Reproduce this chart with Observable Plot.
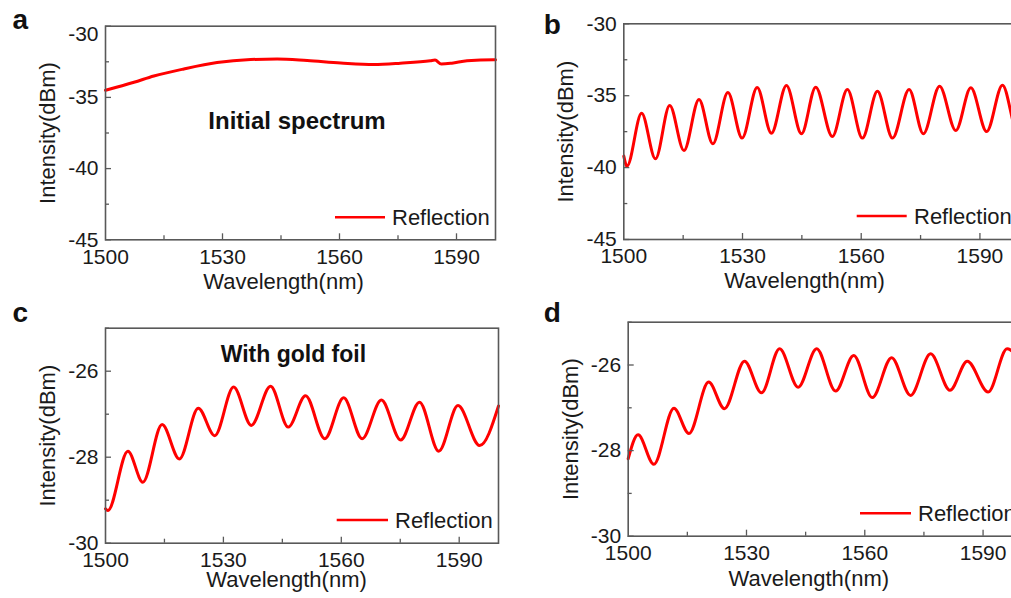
<!DOCTYPE html>
<html><head><meta charset="utf-8">
<script src="https://cdn.jsdelivr.net/npm/d3@7"></script>
<script src="https://cdn.jsdelivr.net/npm/@observablehq/plot@0.6"></script>
<style>
html,body{margin:0;padding:0;background:#fff;}
#fig{position:relative;width:1011px;height:598px;overflow:hidden;background:#fff;}
#fig > div.panel{position:absolute;}
#fig svg{display:block;overflow:visible;max-width:none !important;}
#overlay{position:absolute;left:0;top:0;pointer-events:none;}
</style></head><body><div id="fig"></div>
<script>
// ---------- data ----------
const xMajor = [1500, 1530, 1560, 1590];
const xMinor = [1515, 1545, 1575];
const xLabel = "Wavelength(nm)";
const yLabel = "Intensity(dBm)";
const legendLabel = "Reflection";
const panelLetters = ["a", "b", "c", "d"];
const notes = ["Initial spectrum", "With gold foil"];

// panel a: initial spectrum
const wlA = [1500, 1507.3, 1512.4, 1520.1, 1528.6, 1537.2, 1544.0, 1551.7, 1560.3, 1568.8, 1575.6, 1583.3, 1584.5, 1586.1, 1588.8, 1592.7, 1599.6, 1600];
const dbA = [-34.5, -33.94, -33.5, -33.0, -32.55, -32.34, -32.3, -32.41, -32.58, -32.69, -32.6, -32.43, -32.38, -32.66, -32.6, -32.43, -32.36, -32.36];
// panel b
const wlB = [1500, 1500.8, 1504.5, 1508.0, 1511.6, 1515.2, 1519.0, 1522.5, 1526.3, 1529.9, 1533.7, 1537.3, 1541.1, 1544.9, 1548.5, 1552.7, 1556.5, 1560.3, 1564.1, 1567.9, 1572.1, 1575.7, 1579.8, 1583.9, 1587.7, 1591.7, 1595.7, 1599.5, 1600];
const dbB = [-39.2, -39.9, -36.22, -39.39, -35.68, -38.81, -35.26, -38.35, -34.78, -37.95, -34.43, -37.61, -34.29, -37.65, -34.41, -37.84, -34.57, -37.95, -34.69, -37.95, -34.57, -37.65, -34.34, -37.42, -34.45, -37.49, -34.27, -37.5, -37.4];
// panel c: with gold foil
const wlC = [1500, 1500.6, 1505.7, 1509.5, 1514.4, 1518.8, 1523.6, 1527.8, 1532.6, 1537.1, 1542.0, 1546.5, 1550.9, 1555.8, 1560.6, 1565.3, 1570.2, 1575.1, 1579.9, 1584.8, 1589.7, 1595.2, 1600];
const dbC = [-29.2, -29.24, -27.86, -28.58, -27.24, -28.04, -26.86, -27.50, -26.37, -27.26, -26.35, -27.30, -26.57, -27.57, -26.62, -27.57, -26.67, -27.60, -26.72, -27.86, -26.80, -27.73, -26.81];
// panel d
const wlD = [1500, 1502.5, 1506.5, 1511.6, 1515.4, 1520.4, 1524.4, 1529.5, 1533.8, 1538.4, 1543.1, 1547.8, 1552.6, 1557.2, 1561.9, 1566.8, 1571.6, 1576.7, 1581.6, 1586.0, 1591.3, 1596.1, 1600];
const dbD = [-28.19, -27.63, -28.32, -27.01, -27.60, -26.40, -27.02, -25.91, -26.65, -25.62, -26.52, -25.62, -26.61, -25.78, -26.76, -25.83, -26.71, -25.74, -26.59, -25.91, -26.63, -25.62, -26.0];

const yMajorAB = [-30, -35, -40, -45];
const yMinorAB = [-32.5, -37.5, -42.5];
const yMajorCD = [-26, -28, -30];
const yMinorCD = [-25, -27, -29];
const yDomainAB = [-45, -30];
const yDomainCD = [-30, -25];

// ---------- styling / layout ----------
const FONT = "'Liberation Sans', Arial, Helvetica, sans-serif";
const TXT = "#1a1a1a";
const FRAME = "#595959";
const RED = "#ff0000";

const panels = [
  {wl: wlA, db: dbA, yDomain: yDomainAB, yMajor: yMajorAB, yMinor: yMinorAB, letter: panelLetters[0],
   box: {left: 0, top: 0, width: 505, height: 295, ml: 105, mr: 10, mt: 25.7, mb: 55.7},
   letterPos: [-93, 2.3], xlab: [-17, 34], shiftFirst: 7.6,
   note: {text: notes[0], x: 1549.1, y: -37.19, size: 24},
   legend: {x1: 335, x2: 385, y: 217.3, tx: 392, ty: 225.3}},
  {wl: wlB, db: dbB, yDomain: yDomainAB, yMajor: yMajorAB, yMinor: yMinorAB, letter: panelLetters[1],
   box: {left: 505, top: 0, width: 524, height: 295, ml: 118.3, mr: 10, mt: 23.3, mb: 56},
   letterPos: [-80, 9.7], xlab: [-17, 32.7], shiftFirst: 0,
   legend: {x1: 856.7, x2: 906.7, y: 216, tx: 914, ty: 224}},
  {wl: wlC, db: dbC, yDomain: yDomainCD, yMajor: yMajorCD, yMinor: yMinorCD, letter: panelLetters[2],
   box: {left: 0, top: 295, width: 508, height: 303, ml: 105, mr: 10, mt: 32.7, mb: 55.3},
   letterPos: [-93, -6], xlab: [-15.5, 28], shiftFirst: 0,
   note: {text: notes[1], x: 1547.8, y: -25.79, size: 23},
   legend: {x1: 336.7, x2: 388, y: 520, tx: 395, ty: 528}},
  {wl: wlD, db: dbD, yDomain: yDomainCD, yMajor: yMajorCD, yMinor: yMinorCD, letter: panelLetters[3],
   box: {left: 505, top: 295, width: 527, height: 303, ml: 122.7, mr: 10, mt: 26.7, mb: 62.3},
   letterPos: [-84.4, 0], xlab: [-16.6, 34.3], shiftFirst: 0,
   legend: {x1: 860, x2: 911, y: 513.3, tx: 918, ty: 521.3}}
];

const fig = document.getElementById("fig");

for (const p of panels) {
  const b = p.box;
  const innerW = b.width - b.ml - b.mr;
  const innerH = b.height - b.mt - b.mb;
  const data = p.wl.map((w, i) => ({wl: w, db: p.db[i]}));
  const yAxes = [];
  const axisCommon = {tickSize: 0, tickPadding: 7, fontSize: 21, color: TXT, label: null, tickFormat: d => String(d)};
  if (p.shiftFirst) {
    yAxes.push(Plot.axisY({...axisCommon, ticks: p.yMajor.slice(0, 1), dy: p.shiftFirst}));
    yAxes.push(Plot.axisY({...axisCommon, ticks: p.yMajor.slice(1)}));
  } else {
    yAxes.push(Plot.axisY({...axisCommon, ticks: p.yMajor}));
  }
  const marks = [
    Plot.line(data, {x: "wl", y: "db", stroke: RED, strokeWidth: 3, curve: "monotone-x"}),
    Plot.ruleX(xMinor, {insetTop: innerH - 4, stroke: FRAME, strokeWidth: 1.3}),
    Plot.ruleX(xMajor.slice(1), {insetTop: innerH - 6, stroke: FRAME, strokeWidth: 1.3}),
    Plot.ruleY(p.yMinor, {insetRight: innerW - 4, stroke: FRAME, strokeWidth: 1.3}),
    Plot.ruleY(p.yMajor, {insetRight: innerW - 6, stroke: FRAME, strokeWidth: 1.3}),
    Plot.frame({stroke: FRAME, strokeWidth: 1.6}),
    Plot.axisX({ticks: xMajor, tickSize: 0, tickPadding: 9, fontSize: 21, color: TXT, label: null, tickFormat: d => String(d)}),
    ...yAxes,
    Plot.text([xLabel], {frameAnchor: "bottom", dx: p.xlab[0], dy: p.xlab[1], lineAnchor: "top", fontSize: 22, fill: TXT}),
    Plot.text([yLabel], {frameAnchor: "left", dx: -66, rotate: -90, textAnchor: "middle", lineAnchor: "top", fontSize: 22, fill: TXT}),
    Plot.text([p.letter], {frameAnchor: "top-left", dx: p.letterPos[0], dy: p.letterPos[1], textAnchor: "start", lineAnchor: "bottom", fontSize: 28, fontWeight: "bold", fill: "#111"})
  ];
  if (p.note) {
    marks.push(Plot.text([p.note], {x: "x", y: "y", text: "text", lineAnchor: "bottom", textAnchor: "middle", fontSize: p.note.size, fontWeight: "bold", fill: "#111"}));
  }
  const chart = Plot.plot({
    width: b.width, height: b.height,
    marginLeft: b.ml, marginRight: b.mr, marginTop: b.mt, marginBottom: b.mb,
    x: {domain: [1500, 1600]},
    y: {domain: p.yDomain},
    style: {fontFamily: FONT, background: "transparent", color: TXT, maxWidth: "none", overflow: "visible"},
    marks
  });
  const div = document.createElement("div");
  div.className = "panel";
  div.style.left = b.left + "px";
  div.style.top = b.top + "px";
  div.style.width = b.width + "px";
  div.style.height = b.height + "px";
  div.appendChild(chart);
  fig.appendChild(div);
}

// legend overlay (line sample + label)
const ov = d3.select(fig).append("svg").attr("id", "overlay").attr("width", 1011).attr("height", 598);
for (const p of panels) {
  const L = p.legend;
  ov.append("line").attr("x1", L.x1).attr("x2", L.x2).attr("y1", L.y).attr("y2", L.y)
    .attr("stroke", RED).attr("stroke-width", 2.6);
  ov.append("text").attr("x", L.tx).attr("y", L.ty).attr("font-family", FONT).attr("font-size", 22)
    .attr("fill", TXT).text(legendLabel);
}
</script>
</body></html>
